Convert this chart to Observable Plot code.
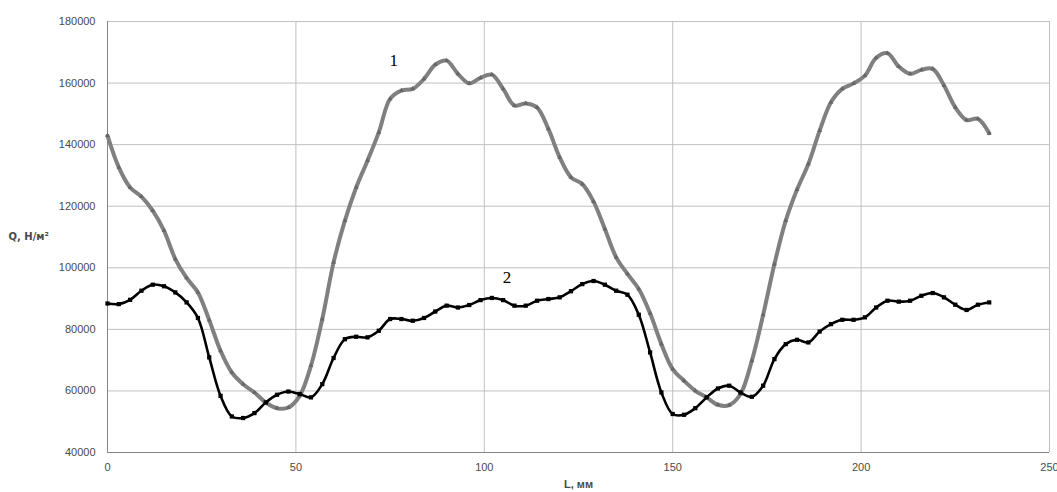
<!DOCTYPE html>
<html>
<head>
<meta charset="utf-8">
<script src="https://cdn.jsdelivr.net/npm/d3@7"></script>
<script src="https://cdn.jsdelivr.net/npm/@observablehq/plot@0.6"></script>
<style>
  html, body { margin: 0; padding: 0; background: #fff; }
  #chart svg { display: block; }
</style>
</head>
<body>
<div id="chart"></div>
<script>
// Distance along the part, mm
const L = [0,3,6,9,12,15,18,21,24,27,30,33,36,39,42,45,48,51,54,57,60,63,66,69,72,75,78,81,84,87,90,93,96,99,102,105,108,111,114,117,120,123,126,129,132,135,138,141,144,147,150,153,156,159,162,165,168,171,174,177,180,183,186,189,192,195,198,201,204,207,210,213,216,219,222,225,228,231,234];

// Series 1 (grey), Q in N/m²
const series1 = [142900,132600,126100,123100,118550,112050,102850,96700,92000,83000,73050,66000,62200,59500,56250,54400,54600,58400,68200,83350,101750,115300,126100,134800,144000,154850,157550,158100,161350,166000,167300,163000,159900,161700,162750,158100,152700,153400,152100,145100,135900,129400,127200,121500,112600,103400,98000,93100,85200,75200,67100,63300,60050,57900,55500,55400,59000,69800,84700,101200,115300,125400,133700,144550,153750,158100,159900,162400,168200,169700,165350,163000,164300,164600,159200,152100,148000,148400,143700];

// Series 2 (black), Q in N/m²
const series2 = [88400,88200,89600,92550,94500,94000,92000,88750,83700,70900,58400,51700,51200,52800,56250,58750,59800,59000,57900,62200,70700,76800,77600,77400,79550,83350,83350,82800,83700,85800,87700,87100,87900,89500,90200,89500,87700,87700,89300,89850,90400,92400,94700,95700,94500,92550,91250,84750,72500,59500,52500,52250,54400,57900,60800,61700,59500,58100,61700,70350,75200,76600,75750,79300,81700,83100,83100,83900,87100,89300,89000,89300,90900,91800,90400,88000,86300,88000,88750];

const xTicks = [0, 50, 100, 150, 200, 250];
const yTicks = [40000, 60000, 80000, 100000, 120000, 140000, 160000, 180000];

// Curve labels
const labelText = ["1", "2"];
const labelL = [76, 106];
const labelQ = [167300, 96800];

const rows1 = L.map((l, i) => ({L: l, Q: series1[i]}));
const rows2 = L.map((l, i) => ({L: l, Q: series2[i]}));
const labels = labelText.map((t, i) => ({t, L: labelL[i], Q: labelQ[i]}));

const chart = Plot.plot({
  width: 1057,
  height: 492,
  marginLeft: 107,
  marginRight: 8,
  marginTop: 21,
  marginBottom: 40,
  style: {fontFamily: "'Liberation Sans', Arial, sans-serif", fontSize: "11px", color: "#4a4a4a", background: "#fff", overflow: "visible"},
  x: {domain: [0, 250]},
  y: {domain: [40000, 180000]},
  marks: [
    Plot.gridX(xTicks, {stroke: "#c0c0c0", strokeOpacity: 1}),
    Plot.gridY(yTicks, {stroke: "#c0c0c0", strokeOpacity: 1}),
    Plot.ruleX([0], {stroke: "#868686"}),
    Plot.ruleY([40000], {stroke: "#868686"}),
    Plot.axisX(xTicks, {tickSize: 0, tickPadding: 11, label: null, fill: "#4a4a4a"}),
    Plot.axisY(yTicks, {tickSize: 0, tickPadding: 12, label: null, tickFormat: d => String(d), fill: "#4a4a4a"}),
    Plot.line(rows1, {x: "L", y: "Q", curve: "catmull-rom", stroke: "#808080", strokeWidth: 4}),
    Plot.dot(rows1, {x: "L", y: "Q", symbol: "triangle", r: 1.8, fill: "#666"}),
    Plot.line(rows2, {x: "L", y: "Q", curve: "catmull-rom", stroke: "#000", strokeWidth: 2.6}),
    Plot.dot(rows2, {x: "L", y: "Q", symbol: "square", r: 2.4, fill: "#000"}),
    Plot.text(labels, {x: "L", y: "Q", text: "t", fontFamily: "'Liberation Serif', 'Times New Roman', serif", fontSize: 17, fill: "#000"}),
    Plot.text(["L, мм"], {frameAnchor: "bottom", dy: 35, fontSize: 11, fontWeight: "bold", fill: "#4a4a4a"}),
    Plot.text(["Q, Н/м²"], {frameAnchor: "left", dx: -99, textAnchor: "start", fontFamily: "'DejaVu Sans', sans-serif", fontSize: 10, fontWeight: "bold", fill: "#4a4a4a"})
  ]
});
document.getElementById("chart").appendChild(chart);
</script>
</body>
</html>
